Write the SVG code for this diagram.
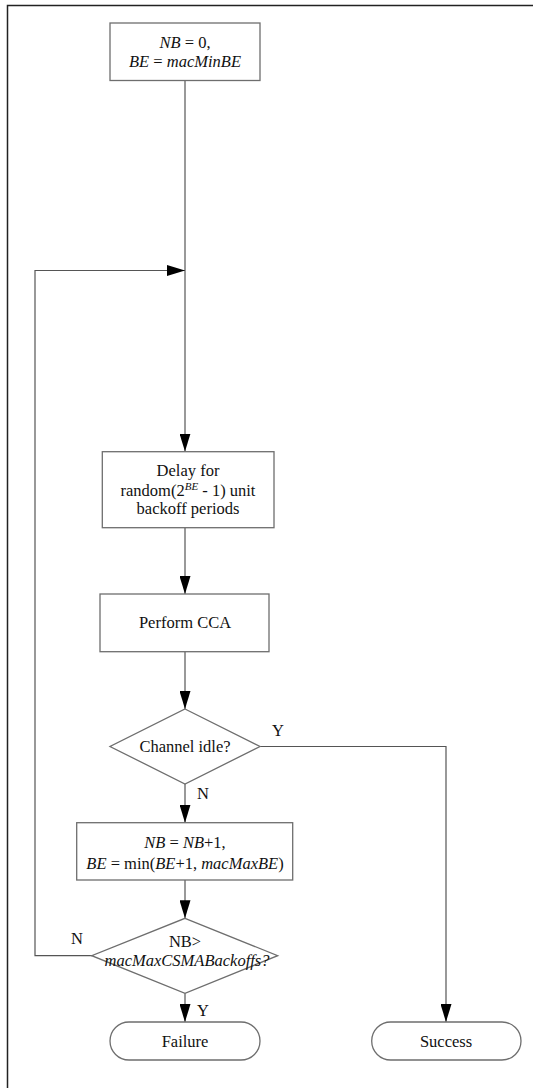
<svg xmlns="http://www.w3.org/2000/svg" width="533" height="1088" viewBox="0 0 533 1088">
<style>
text{font-family:"Liberation Serif","Times New Roman",serif;font-size:16.5px;fill:#111}
.c{text-anchor:middle}
.i{font-style:italic}
.box{fill:#fff;stroke:#6e6e6e;stroke-width:1.3}
.ln{fill:none;stroke:#555;stroke-width:1.2}
.frame{fill:none;stroke:#222;stroke-width:1.5}
</style>
<defs>
<marker id="ah" viewBox="0 0 18 11" refX="18" refY="5.5" markerWidth="18" markerHeight="11" markerUnits="userSpaceOnUse" orient="auto">
<path d="M0,0 L18,5.5 L0,11 Z" fill="#000"/>
</marker>
</defs>
<rect width="533" height="1088" fill="#fff"/>
<path class="frame" d="M7.5,1088 V5.5 H533"/>
<g id="connectors">
<path class="ln" d="M185,80.5 V451.5" marker-end="url(#ah)"/>
<path class="ln" d="M92,955.7 H35 V270.5 H185" marker-end="url(#ah)"/>
<path class="ln" d="M185,527.7 V594" marker-end="url(#ah)"/>
<path class="ln" d="M185,651.7 V709" marker-end="url(#ah)"/>
<path class="ln" d="M260,746.5 H446 V1022" marker-end="url(#ah)"/>
<path class="ln" d="M185,784 V822.7" marker-end="url(#ah)"/>
<path class="ln" d="M185,880 V918.3" marker-end="url(#ah)"/>
<path class="ln" d="M185,993.3 V1022" marker-end="url(#ah)"/>
<text x="278" y="735.5" class="c">Y</text>
<text x="203" y="798.5" class="c">N</text>
<text x="77" y="943.5" class="c">N</text>
<text x="203" y="1015.5" class="c">Y</text>
</g>
<g id="init">
<rect class="box" x="110" y="23" width="150" height="57.5"/>
<text x="185" y="47.5" class="c"><tspan class="i">NB</tspan> = 0,</text>
<text x="185" y="67" class="c"><tspan class="i">BE</tspan> = <tspan class="i">macMinBE</tspan></text>
</g>
<g id="delay">
<rect class="box" x="102.3" y="451.7" width="171.7" height="76"/>
<text x="188" y="475.5" class="c">Delay for</text>
<text x="188" y="496" class="c">random(2<tspan class="i" font-size="11" dy="-6">BE</tspan><tspan dy="6"> - 1) unit</tspan></text>
<text x="188" y="514" class="c">backoff periods</text>
</g>
<g id="cca">
<rect class="box" x="100" y="594" width="169" height="57.7"/>
<text x="185" y="627.5" class="c">Perform CCA</text>
</g>
<g id="idle">
<path class="box" d="M185,709 L260,746.5 L185,784 L110,746.5 Z"/>
<text x="185" y="752" class="c">Channel idle?</text>
</g>
<g id="update">
<rect class="box" x="76.7" y="822.7" width="216" height="57.3"/>
<text x="185" y="848" class="c"><tspan class="i">NB</tspan> = <tspan class="i">NB</tspan>+1,</text>
<text x="185" y="868.5" class="c"><tspan class="i">BE</tspan> = min(<tspan class="i">BE</tspan>+1, <tspan class="i">macMaxBE</tspan>)</text>
</g>
<g id="maxcheck">
<path class="box" d="M185,918.3 L277.7,955.7 L185,993.3 L91.7,955.7 Z"/>
<text x="185" y="947" class="c" font-size="15">NB&gt;</text>
<text x="187" y="966" class="c i" font-size="15">macMaxCSMABackoffs?</text>
</g>
<g id="failure">
<rect class="box" x="110" y="1022" width="150" height="38" rx="19" ry="19"/>
<text x="185" y="1046.5" class="c">Failure</text>
</g>
<g id="success">
<rect class="box" x="371.7" y="1022" width="149.3" height="38" rx="19" ry="19"/>
<text x="446" y="1046.5" class="c">Success</text>
</g>
</svg>
